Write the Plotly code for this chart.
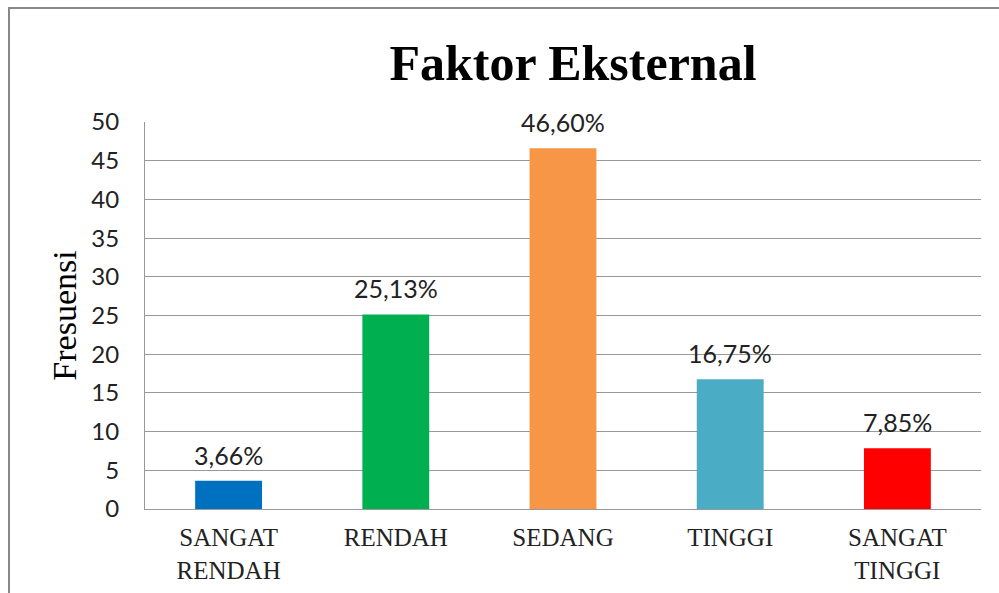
import plotly.graph_objects as go

kategori = ["SANGAT<br>RENDAH", "RENDAH", "SEDANG", "TINGGI", "SANGAT<br>TINGGI"]
frekuensi = [3.66, 25.13, 46.60, 16.75, 7.85]
label_persen = ["3,66%", "25,13%", "46,60%", "16,75%", "7,85%"]
warna = ["#0070C0", "#00B050", "#F79646", "#4BACC6", "#FF0000"]

W, H = 999, 593
L, R, T, B = 145, 18, 122, 84
pw, ph = W - L - R, H - T - B

fig = go.Figure()
fig.add_trace(go.Bar(
    x=kategori,
    y=frekuensi,
    marker=dict(color=warna, line=dict(width=0)),
    width=0.4,
    hoverinfo="skip",
))

# label persen di atas batang
for k, v, t in zip(kategori, frekuensi, label_persen):
    fig.add_annotation(x=k, y=v, text=t, showarrow=False,
                       yanchor="bottom", yshift=9,
                       font=dict(family="Lato, sans-serif", size=25, color="#222"))

fig.update_layout(
    width=W, height=H,
    margin=dict(l=L, r=R, t=T, b=B),
    paper_bgcolor="white",
    plot_bgcolor="white",
    showlegend=False,
    title=dict(text="<b>Faktor Eksternal</b>", x=573 / W, xanchor="center",
               y=1 - 62 / H, yanchor="middle",
               font=dict(family="Liberation Serif", size=50, color="black")),
    xaxis=dict(
        tickfont=dict(family="Liberation Serif", size=25, color="#222"),
        showline=True, linecolor="#999", linewidth=1,
        ticks="", showgrid=False, ticklabelstandoff=6, automargin=False,
    ),
    yaxis=dict(
        range=[0, 50], dtick=5,
        tickfont=dict(family="Lato, sans-serif", size=24, color="#222"),
        showgrid=True, gridcolor="#999", gridwidth=1,
        showline=True, linecolor="#999", linewidth=1,
        ticks="", zeroline=False, ticklabelstandoff=20, automargin=False,
        title=dict(text="Fresuensi", standoff=4,
                   font=dict(family="Liberation Serif", size=34, color="black")),
    ),
)

# bingkai luar grafik
fig.add_shape(type="rect", xref="paper", yref="paper",
              x0=(9 - L) / pw, x1=(W + 20 - L) / pw,
              y0=-(B + 20) / ph, y1=(H - 8 - B) / ph,
              line=dict(color="#888", width=2), layer="below")

fig.write_html("out.html", config={"displayModeBar": False},
               post_script="document.body.style.margin='0';")
